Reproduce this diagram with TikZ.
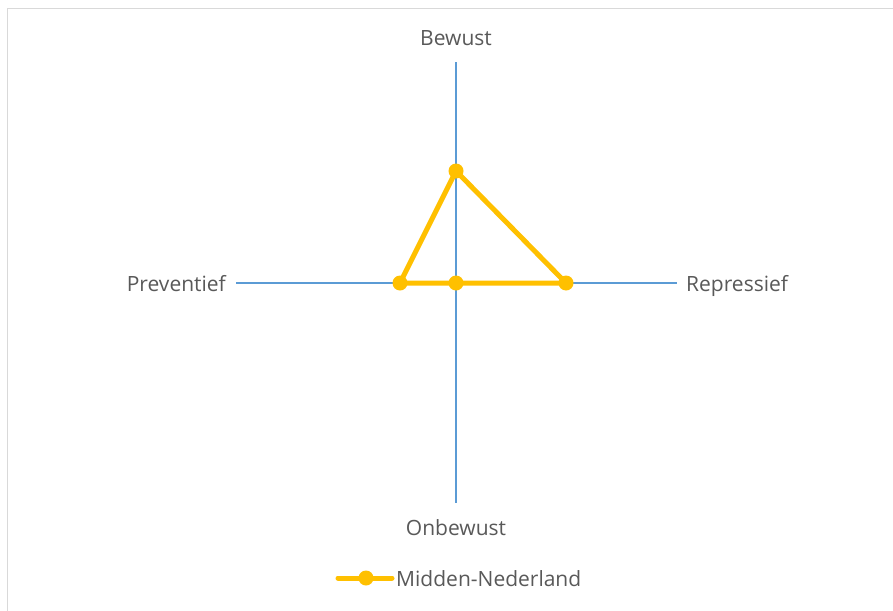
\documentclass[tikz,border=0pt]{standalone}
\usepackage{fontspec}
\setmainfont{Open Sans}
\definecolor{axisblue}{HTML}{5B9BD5}
\definecolor{gold}{HTML}{FFC000}
\definecolor{txtgray}{HTML}{595959}
\definecolor{framegray}{HTML}{D9D9D9}
\begin{document}
\begin{tikzpicture}[x=1pt,y=-1pt,
  lbl/.style={text=txtgray,font=\fontsize{21}{24}\selectfont,inner sep=0pt},
  axis/.style={draw=axisblue,line width=1.2pt},
  series/.style={draw=gold,line width=5pt,line join=round},
  dot/.style={circle,fill=gold,minimum size=15pt,inner sep=0pt}]
\useasboundingbox (0,0) rectangle (893,610);
\fill[white] (0,0) rectangle (893,610);
\draw[framegray,line width=1.3pt] (7.5,620) -- (7.5,8.5) -- (900,8.5);
% axes
\coordinate (vt) at (456,62);
\coordinate (vb) at (456,503);
\coordinate (hl) at (236,283);
\coordinate (hr) at (677,283);
\draw[axis] (vt) -- (vb);
\draw[axis] (hl) -- (hr);
% labels
\node[lbl,anchor=mid] (bew) at (456,42.5) {Bewust};
\node[lbl,anchor=mid] (onb) at (456,532.5) {Onbewust};
\node[lbl,anchor=mid east] (prev) at (226,288.5) {Preventief};
\node[lbl,anchor=mid west] (rep) at (686,288.5) {Repressief};
% series
\coordinate (pt) at (456,171);
\coordinate (pr) at (566,283);
\coordinate (pc) at (456,283);
\coordinate (pl) at (400,283);
\draw[series] (pt) -- (pr) -- (pc) -- (pl) -- cycle;
\foreach \p in {pt,pr,pc,pl} \node[dot] at (\p) {};
% legend
\coordinate (la) at (338,578);
\coordinate (lb) at (392,578);
\draw[series,line cap=round] (la) -- (lb);
\node[dot] (ld) at (366,578) {};
\node[lbl,anchor=mid west] (leg) at (396,583.5) {Midden-Nederland};
\end{tikzpicture}
\end{document}
